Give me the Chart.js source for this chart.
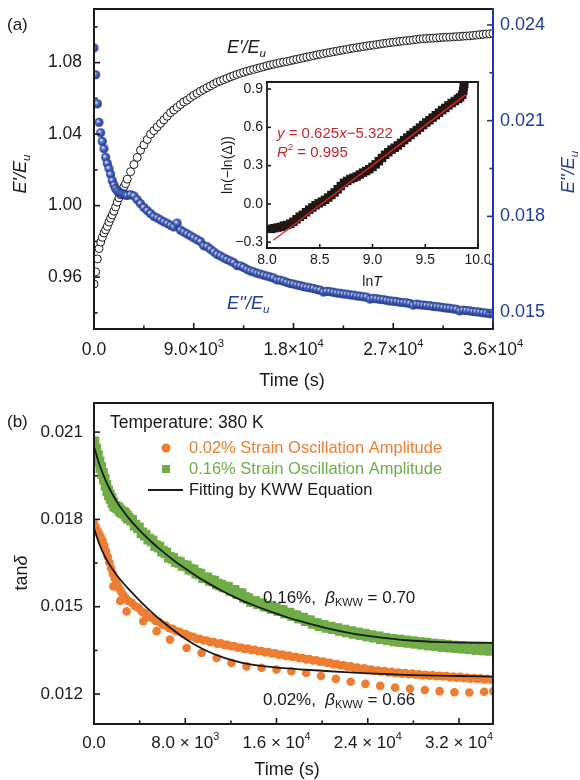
<!DOCTYPE html>
<html>
<head>
<meta charset="utf-8">
<script src="https://cdn.jsdelivr.net/npm/chart.js@4.4.1/dist/chart.umd.min.js"></script>
<style>
  html, body { margin: 0; padding: 0; background: #fff; }
  #wrap { position: relative; width: 580px; height: 780px; }
  canvas { position: absolute; }
</style>
</head>
<body>
<div id="wrap">
  <canvas id="panelA" width="580" height="395" style="left:0;top:0;width:580px;height:395px"></canvas>
  <canvas id="inset" width="275" height="220" style="left:215px;top:76px;width:275px;height:220px"></canvas>
  <canvas id="panelB" width="580" height="385" style="left:0;top:395px;width:580px;height:385px"></canvas>
</div>
<script>
// ---- panel (a): E'/Eu and E''/Eu against time (s) ----
const timeA = [0, 150, 300, 450, 600, 750, 900, 1050, 1200, 1350, 1500, 1650, 1800, 1950, 2100, 2250, 2400, 2550, 2700, 2850, 3000,
  3300, 3600, 3900, 4200, 4500, 4800, 5100, 5400, 5700, 6000,
  6300, 6600, 6900, 7200, 7500, 7800, 8100, 8400, 8700, 9000,
  9300, 9600, 9900, 10200, 10500, 10800, 11100, 11400, 11700, 12000,
  12300, 12600, 12900, 13200, 13500, 13800, 14100, 14400, 14700, 15000,
  15300, 15600, 15900, 16200, 16500, 16800, 17100, 17400, 17700, 18000,
  18300, 18600, 18900, 19200, 19500, 19800, 20100, 20400, 20700, 21000,
  21300, 21600, 21900, 22200, 22500, 22800, 23100, 23400, 23700, 24000,
  24300, 24600, 24900, 25200, 25500, 25800, 26100, 26400, 26700, 27000,
  27300, 27600, 27900, 28200, 28500, 28800, 29100, 29400, 29700, 30000,
  30300, 30600, 30900, 31200, 31500, 31800, 32100, 32400, 32700, 33000,
  33300, 33600, 33900, 34200, 34500, 34800, 35100, 35400, 35700, 36000];
const storageRatio = [0.9561, 0.9630, 0.9702, 0.9760, 0.9796, 0.9823, 0.9847, 0.9865, 0.9884, 0.9908, 0.9929, 0.9948, 0.9969, 0.9993, 1.0020, 1.0044, 1.0061, 1.0086, 1.0106, 1.0123, 1.0148,
  1.019, 1.023, 1.027, 1.031, 1.034, 1.037, 1.040, 1.042, 1.044, 1.046,
  1.048, 1.050, 1.052, 1.0535, 1.055, 1.0565, 1.058, 1.059, 1.0605, 1.0617,
  1.0628, 1.064, 1.065, 1.066, 1.067, 1.068, 1.069, 1.0697, 1.0705, 1.0712,
  1.072, 1.0727, 1.0734, 1.074, 1.0746, 1.0752, 1.0757, 1.0762, 1.0767, 1.0772,
  1.0777, 1.0782, 1.0787, 1.0791, 1.0795, 1.0799, 1.0803, 1.0806, 1.081, 1.0815,
  1.0819, 1.0823, 1.0827, 1.0831, 1.0835, 1.0839, 1.0843, 1.0847, 1.085, 1.0854,
  1.0857, 1.0861, 1.0864, 1.0868, 1.0871, 1.0874, 1.0878, 1.0881, 1.0884, 1.0887,
  1.089, 1.0893, 1.0896, 1.0898, 1.0901, 1.0904, 1.0907, 1.0909, 1.0912, 1.0914,
  1.0916, 1.0919, 1.0921, 1.0923, 1.0925, 1.0927, 1.093, 1.0932, 1.0934, 1.0935,
  1.0936, 1.0937, 1.0938, 1.094, 1.0941, 1.0942, 1.0943, 1.0944, 1.0945, 1.0946,
  1.0948, 1.0949, 1.095, 1.0952, 1.0954, 1.0956, 1.0958, 1.096, 1.0961, 1.0963];
const lossRatio = [0.02328, 0.02244, 0.02153, 0.02095, 0.02062, 0.02035, 0.02012, 0.01985, 0.01966, 0.01950, 0.01932, 0.01912, 0.01898, 0.01887, 0.01880, 0.01876, 0.01873, 0.01871, 0.01869, 0.01867, 0.01866,
  0.01868, 0.01864, 0.01852, 0.01840, 0.01828, 0.01818, 0.01809, 0.01800, 0.01795, 0.01789,
  0.01783, 0.01778, 0.01772, 0.01767, 0.01779, 0.01757, 0.01751, 0.01745, 0.01739, 0.01733,
  0.01727, 0.01721, 0.01708, 0.01705, 0.01697, 0.01689, 0.01681, 0.01676, 0.01670, 0.01665,
  0.0166, 0.01655, 0.01646, 0.01645, 0.0164, 0.01634, 0.01629, 0.01626, 0.01622, 0.01619,
  0.01616, 0.01613, 0.0161, 0.01607, 0.01601, 0.016, 0.01597, 0.01593, 0.0159, 0.01588,
  0.01585, 0.01583, 0.0158, 0.01578, 0.01576, 0.01574, 0.01571, 0.01569, 0.01563, 0.01565,
  0.01564, 0.01562, 0.0156, 0.01559, 0.01557, 0.01556, 0.01554, 0.01553, 0.01551, 0.0155,
  0.01548, 0.01547, 0.01541, 0.01543, 0.01542, 0.0154, 0.01539, 0.01537, 0.01535, 0.01534,
  0.01533, 0.01531, 0.0153, 0.01529, 0.01527, 0.01522, 0.01525, 0.01523, 0.01522, 0.01521,
  0.0152, 0.01518, 0.01517, 0.01516, 0.01514, 0.01513, 0.01512, 0.0151, 0.01509, 0.01504,
  0.01506, 0.01505, 0.01504, 0.01502, 0.01501, 0.015, 0.01498, 0.01497, 0.01495, 0.01497];
const ticksTimeA = [0, 9000, 18000, 27000, 36000];
const minorTimeA = [4500, 13500, 22500, 31500];
const ticksStorage = [0.96, 1.00, 1.04, 1.08];
const minorStorage = [0.94, 0.98, 1.02, 1.06, 1.10];
const ticksLoss = [0.015, 0.018, 0.021, 0.024];
const minorLoss = [0.0165, 0.0195, 0.0225];

// ---- inset: ln(-ln(delta)) against lnT ----
const lnT = [8.04, 8.07, 8.10, 8.13, 8.16, 8.19, 8.22, 8.25, 8.28, 8.31, 8.34, 8.37, 8.40, 8.43, 8.46, 8.49,
  8.52, 8.55, 8.58, 8.61, 8.64, 8.67, 8.70, 8.73, 8.76, 8.79, 8.82, 8.85, 8.88, 8.91, 8.94, 8.97,
  9.00, 9.03, 9.06, 9.09, 9.12, 9.15, 9.18, 9.21, 9.24, 9.27, 9.30, 9.33, 9.36, 9.39, 9.42, 9.45,
  9.48, 9.51, 9.54, 9.57, 9.60, 9.63, 9.66, 9.69, 9.72, 9.75, 9.78, 9.81, 9.83, 9.85, 9.86, 9.865, 9.87];
const lnLnDelta = [-0.195, -0.19, -0.185, -0.18, -0.17, -0.165, -0.155, -0.14, -0.12, -0.10, -0.085, -0.065, -0.045, -0.028, -0.01, 0.005,
  0.018, 0.032, 0.05, 0.07, 0.09, 0.115, 0.14, 0.165, 0.18, 0.195, 0.205, 0.215, 0.23, 0.245, 0.258, 0.272,
  0.29, 0.31, 0.335, 0.36, 0.385, 0.405, 0.425, 0.44, 0.458, 0.478, 0.5, 0.52, 0.54, 0.56, 0.578, 0.598,
  0.618, 0.638, 0.656, 0.676, 0.695, 0.715, 0.735, 0.752, 0.772, 0.79, 0.806, 0.822, 0.835, 0.855, 0.885, 0.915, 0.94];
const fitLnT = [8.06, 9.885];
const fitLnDelta = [-0.284, 0.856];
const ticksLnT = [8.0, 8.5, 9.0, 9.5, 10.0];
const ticksLnDelta = [-0.3, 0.0, 0.3, 0.6, 0.9];

// ---- panel (b): tan(delta) against time (s) ----
const timeB = [0, 150, 300, 450, 600, 750, 900, 1050, 1200, 1350, 1500, 1650, 1800, 1950, 2100, 2250, 2400, 2550, 2700, 2850,
  3000, 3300, 3600, 3900, 4200, 4500, 4800, 5100, 5400, 5700,
  6000, 6300, 6600, 6900, 7200, 7500, 7800, 8100, 8400, 8700,
  9000, 9300, 9600, 9900, 10200, 10500, 10800, 11100, 11400, 11700,
  12000, 12300, 12600, 12900, 13200, 13500, 13800, 14100, 14400, 14700,
  15000, 15300, 15600, 15900, 16200, 16500, 16800, 17100, 17400, 17700,
  18000, 18300, 18600, 18900, 19200, 19500, 19800, 20100, 20400, 20700,
  21000, 21300, 21600, 21900, 22200, 22500, 22800, 23100, 23400, 23700,
  24000, 24300, 24600, 24900, 25200, 25500, 25800, 26100, 26400, 26700,
  27000, 27300, 27600, 27900, 28200, 28500, 28800, 29100, 29400, 29700,
  30000, 30300, 30600, 30900, 31200, 31500, 31800, 32100, 32400, 32700,
  33000, 33300, 33600, 33900, 34200, 34500, 34800, 35100];
const tanLarge = [0.02067, 0.02042, 0.0202, 0.01998, 0.01978, 0.01958, 0.01938, 0.01917, 0.01898, 0.01884, 0.01872, 0.01858, 0.01846, 0.01843, 0.0184, 0.01832, 0.01826, 0.01824, 0.0182, 0.01812,
  0.01804, 0.01797, 0.0178, 0.01771, 0.01754, 0.01746, 0.01732, 0.01726, 0.0171, 0.01705,
  0.01691, 0.01685, 0.0167, 0.01666, 0.01655, 0.01652, 0.01642, 0.0164, 0.01629, 0.01626,
  0.01615, 0.01612, 0.016, 0.01599, 0.0159, 0.01588, 0.01578, 0.01574, 0.01568, 0.01567,
  0.01556, 0.01556, 0.01545, 0.01545, 0.01532, 0.01528, 0.01518, 0.01518, 0.0151, 0.0151,
  0.01502, 0.01502, 0.01494, 0.01495, 0.01487, 0.01487, 0.01478, 0.01478, 0.0147, 0.01469,
  0.01461, 0.01461, 0.01452, 0.01452, 0.01443, 0.01442, 0.01435, 0.01436, 0.01429, 0.0143,
  0.01424, 0.01425, 0.01418, 0.0142, 0.01413, 0.01415, 0.01408, 0.0141, 0.01404, 0.01406,
  0.01399, 0.01401, 0.01395, 0.01397, 0.0139, 0.01392, 0.01386, 0.01388, 0.01382, 0.01386,
  0.0138, 0.01383, 0.01377, 0.0138, 0.01374, 0.01377, 0.01371, 0.01375, 0.01368, 0.01372,
  0.01366, 0.0137, 0.01363, 0.01368, 0.01361, 0.01365, 0.01359, 0.01363, 0.01357, 0.01361,
  0.01355, 0.01359, 0.01353, 0.01357, 0.01351, 0.01356, 0.0135, 0.01354];
const tanSmall = [0.01787, 0.01775, 0.01762, 0.01751, 0.0174, 0.01727, 0.01712, 0.01692, 0.01672, 0.01652, 0.01632, 0.01614, 0.01598, 0.01584, 0.01572, 0.0156, 0.0155, 0.01541, 0.01533, 0.01526,
  0.0152, 0.01514, 0.01502, 0.01496, 0.01483, 0.01477, 0.01465, 0.01461, 0.01451, 0.01448,
  0.01438, 0.01435, 0.01426, 0.01424, 0.01416, 0.01414, 0.01407, 0.01405, 0.01398, 0.01397,
  0.0139, 0.0139, 0.01384, 0.01384, 0.01378, 0.01379, 0.01373, 0.01374, 0.01369, 0.01369,
  0.01364, 0.01365, 0.01359, 0.0136, 0.01355, 0.01356, 0.01351, 0.01352, 0.01347, 0.01348,
  0.01343, 0.01344, 0.01339, 0.0134, 0.01335, 0.01336, 0.01331, 0.01332, 0.01327, 0.01328,
  0.01323, 0.01324, 0.01319, 0.0132, 0.01315, 0.01316, 0.01311, 0.01312, 0.01307, 0.01307,
  0.01302, 0.01303, 0.01298, 0.01299, 0.01294, 0.01295, 0.0129, 0.01291, 0.01286, 0.01288,
  0.01283, 0.01284, 0.0128, 0.01281, 0.01277, 0.01279, 0.01274, 0.01276, 0.01272, 0.01274,
  0.0127, 0.01272, 0.01268, 0.0127, 0.01266, 0.01268, 0.01264, 0.01266, 0.01263, 0.01265,
  0.01261, 0.01263, 0.0126, 0.01262, 0.01258, 0.0126, 0.01256, 0.01259, 0.01255, 0.01257,
  0.01253, 0.01255, 0.01252, 0.01254, 0.0125, 0.01252, 0.01249, 0.01251];
// scattered low points of the 0.02% run
const lowTime = [1700, 2300, 2860, 4320, 5490, 6660, 8120, 9430, 10750, 12050, 13370, 14690, 16000, 17300, 18600,
  19900, 21200, 22500, 23800, 25100, 26400, 27700, 29000, 30300, 31600, 32900, 34200, 35000];
const lowSmall = [0.0157, 0.0152, 0.01484, 0.0145, 0.01416, 0.01387, 0.01358, 0.01341, 0.01324, 0.01307, 0.01295, 0.0129, 0.01284, 0.01278, 0.01272,
  0.01262, 0.01252, 0.01242, 0.01235, 0.01228, 0.01222, 0.01218, 0.01214, 0.0121, 0.01206, 0.01205, 0.01208, 0.0121];
const fitTime = [0, 500, 1000, 1500, 2000, 2500, 3000, 4000, 5000, 6000, 7000, 8000, 9000, 10000, 11000,
  12000, 13000, 14000, 15000, 16000, 17000, 18000, 20000, 22000, 24000, 26000, 28000, 30000, 32000, 35000];
const fitLarge = [0.0205, 0.01986, 0.01936, 0.01895, 0.01861, 0.01832, 0.01806, 0.01762, 0.01724, 0.0169, 0.01659, 0.01631, 0.01605, 0.01581, 0.01559,
  0.01539, 0.01521, 0.01505, 0.0149, 0.01476, 0.01463, 0.01451, 0.0143, 0.01413, 0.014, 0.0139, 0.01383, 0.01379, 0.01377, 0.01376];
const fitSmall = [0.0177, 0.01712, 0.01669, 0.01636, 0.01608, 0.01584, 0.01562, 0.01521, 0.01483, 0.01449, 0.01418, 0.0139, 0.01366, 0.01346, 0.0133,
  0.01317, 0.01307, 0.013, 0.01295, 0.01291, 0.01288, 0.01285, 0.0128, 0.01275, 0.01271, 0.01268, 0.01265, 0.01263, 0.01262, 0.0126];
const ticksTimeB = [0, 8000, 16000, 24000, 32000];
const minorTimeB = [4000, 12000, 20000, 28000];
const ticksTan = [0.012, 0.015, 0.018, 0.021];
const minorTan = [0.0135, 0.0165, 0.0195];

const FONT = '"Liberation Sans", Arial, Helvetica, sans-serif';
const INK = '#1a1a1a';
const BLUE = '#1f3c9c';
const ORANGE = '#ed7d31';
const GREEN = '#70ad47';
const RED_TXT = '#c3262c';

// parts: [[text, flags]]; flags: i = italic, b = subscript, p = superscript
function richText(ctx, parts, x, y, size, color, align, angle) {
  const fontOf = f => (f.includes('i') ? 'italic ' : '') + ((f.includes('b') || f.includes('p')) ? size * 0.64 : size) + 'px ' + FONT;
  let total = 0;
  const widths = parts.map(([t, f]) => { ctx.font = fontOf(f); const w = ctx.measureText(t).width; total += w; return w; });
  ctx.save();
  ctx.translate(x, y);
  if (angle) ctx.rotate(angle);
  ctx.fillStyle = color;
  ctx.textBaseline = 'middle';
  ctx.textAlign = 'left';
  let cx = align === 'center' ? -total / 2 : align === 'right' ? -total : 0;
  parts.forEach(([t, f], i) => {
    ctx.font = fontOf(f);
    const dy = f.includes('b') ? size * 0.3 : f.includes('p') ? -size * 0.36 : 0;
    ctx.fillText(t, cx, dy);
    cx += widths[i];
  });
  ctx.restore();
}

function frame(chart, lw, c) {
  const ctx = chart.ctx, a = chart.chartArea;
  ctx.save();
  ctx.lineWidth = lw;
  ctx.lineCap = 'square';
  const seg = (col, x1, y1, x2, y2) => {
    if (!col) return;
    ctx.strokeStyle = col;
    ctx.beginPath(); ctx.moveTo(x1, y1); ctx.lineTo(x2, y2); ctx.stroke();
  };
  seg(c.top, a.left, a.top, a.right, a.top);
  seg(c.bottom, a.left, a.bottom, a.right, a.bottom);
  seg(c.left, a.left, a.top, a.left, a.bottom);
  seg(c.right, a.right, a.top, a.right, a.bottom);
  ctx.restore();
}

function inwardTicks(chart, id, side, major, minor, color, len) {
  const ctx = chart.ctx, a = chart.chartArea, s = chart.scales[id];
  ctx.save();
  ctx.strokeStyle = color;
  ctx.lineWidth = 1.6;
  const mark = (v, l) => {
    const p = s.getPixelForValue(v);
    ctx.beginPath();
    if (side === 'left') { ctx.moveTo(a.left, p); ctx.lineTo(a.left + l, p); }
    if (side === 'right') { ctx.moveTo(a.right, p); ctx.lineTo(a.right - l, p); }
    if (side === 'bottom') { ctx.moveTo(p, a.bottom); ctx.lineTo(p, a.bottom - l); }
    ctx.stroke();
  };
  major.forEach(v => mark(v, len));
  minor.forEach(v => mark(v, len * 0.6));
  ctx.restore();
}

function sciLabel(v, gap) {
  if (v === 0) return [['0.0', '']];
  const e = Math.floor(Math.log10(v) + 1e-9);
  const m = (v / Math.pow(10, e)).toFixed(1);
  return [[m + gap + '×' + gap + '10', ''], [String(e), 'p']];
}

function xLabels(chart, id, values, fmt, y, size) {
  const s = chart.scales[id];
  values.forEach(v => richText(chart.ctx, fmt(v), s.getPixelForValue(v), y, size, INK, 'center'));
}

function yLabels(chart, id, values, fmt, x, align, size, color) {
  const s = chart.scales[id];
  values.forEach(v => richText(chart.ctx, [[fmt(v), '']], x, s.getPixelForValue(v), size, color, align));
}

function sphere(r) {
  const c = document.createElement('canvas');
  const d = Math.ceil(2 * r + 2);
  c.width = d; c.height = d;
  const g = c.getContext('2d');
  const m = d / 2;
  const grad = g.createRadialGradient(m - r * 0.3, m - r * 0.3, r * 0.1, m, m, r);
  grad.addColorStop(0, '#dfe6f8');
  grad.addColorStop(0.38, '#5570bf');
  grad.addColorStop(1, '#16308c');
  g.fillStyle = grad;
  g.beginPath(); g.arc(m, m, r, 0, Math.PI * 2); g.fill();
  return c;
}

const pts = (xs, ys) => xs.map((x, i) => ({ x: x, y: ys[i] }));
const hidden = { display: false };
const minus = v => (Math.abs(v) < 1e-9 ? '0.0' : v < 0 ? '−' + Math.abs(v).toFixed(1) : v.toFixed(1));

// plain linear axis: no grid, no built-in labels, exact size
function axis(extra, size, isX) {
  return Object.assign({
    type: 'linear',
    grid: hidden, border: hidden, ticks: { display: false },
    afterFit: s => { if (isX) s.height = size; else s.width = size; }
  }, extra);
}

// ---------------- panel (a) ----------------
const decorA = {
  id: 'decorA',
  afterDatasetsDraw(chart) {
    const ctx = chart.ctx, a = chart.chartArea;
    frame(chart, 2, { top: INK, left: INK, bottom: INK, right: BLUE });
    inwardTicks(chart, 'yStore', 'left', ticksStorage, minorStorage, INK, 6);
    inwardTicks(chart, 'yLoss', 'right', ticksLoss, minorLoss, BLUE, 6);
    inwardTicks(chart, 'x', 'bottom', ticksTimeA, minorTimeA, INK, 6);
    xLabels(chart, 'x', ticksTimeA, v => sciLabel(v, ''), 350, 17.5);
    yLabels(chart, 'yStore', ticksStorage, v => v.toFixed(2), a.left - 12, 'right', 17.5, INK);
    yLabels(chart, 'yLoss', ticksLoss, v => v.toFixed(3), a.right + 7, 'left', 18, BLUE);
    richText(ctx, [['Time (s)', '']], 292, 381, 18, INK, 'center');
    richText(ctx, [['(a)', '']], 7, 25, 17, INK, 'left');
    richText(ctx, [["E'/E", 'i'], ['u', 'ib']], 21, 174, 18, INK, 'center', -Math.PI / 2);
    richText(ctx, [["E''/E", 'i'], ['u', 'ib']], 569, 172, 18, BLUE, 'center', -Math.PI / 2);
    richText(ctx, [["E'/E", 'i'], ['u', 'ib']], 227, 48, 18, INK, 'left');
    richText(ctx, [["E''/E", 'i'], ['u', 'ib']], 227, 304, 18, BLUE, 'left');
  }
};

new Chart(document.getElementById('panelA'), {
  type: 'scatter',
  data: {
    datasets: [
      {
        label: "E''/Eu",
        data: pts(timeA, lossRatio),
        yAxisID: 'yLoss',
        pointStyle: sphere(4.5),
        pointRadius: 4.5,
        order: 0
      },
      {
        label: "E'/Eu",
        data: pts(timeA, storageRatio),
        yAxisID: 'yStore',
        pointRadius: 4,
        pointBackgroundColor: '#fff',
        pointBorderColor: INK,
        pointBorderWidth: 1,
        order: 1
      }
    ]
  },
  options: {
    responsive: false,
    animation: false,
    devicePixelRatio: 1,
    layout: { padding: { top: 9, left: 0, right: 0, bottom: 0 } },
    plugins: { legend: hidden, tooltip: { enabled: false } },
    scales: {
      x: axis({ min: 0, max: 36000 }, 66, true),
      yStore: axis({ axis: 'y', position: 'left', min: 0.931, max: 1.11 }, 94, false),
      yLoss: axis({ axis: 'y', position: 'right', min: 0.01447, max: 0.0245 }, 87, false)
    }
  },
  plugins: [decorA]
});

// ---------------- inset ----------------
const decorInset = {
  id: 'decorInset',
  beforeDatasetsDraw(chart) {
    const a = chart.chartArea;
    chart.ctx.save();
    chart.ctx.fillStyle = '#fff';
    chart.ctx.fillRect(a.left, a.top, a.right - a.left, a.bottom - a.top);
    chart.ctx.restore();
  },
  afterDatasetsDraw(chart) {
    const ctx = chart.ctx, a = chart.chartArea;
    frame(chart, 1.8, { top: INK, left: INK, bottom: INK, right: INK });
    inwardTicks(chart, 'y', 'left', ticksLnDelta, [], INK, 4);
    inwardTicks(chart, 'x', 'bottom', ticksLnT, [], INK, 4);
    xLabels(chart, 'x', ticksLnT, v => [[v.toFixed(1), '']], a.bottom + 12, 14);
    yLabels(chart, 'y', ticksLnDelta, minus, a.left - 4, 'right', 14, INK);
    richText(ctx, [['ln', ''], ['T', 'i']], 157, 206, 14, INK, 'center');
    richText(ctx, [['ln(−ln(Δ))', '']], 13, 89, 14, INK, 'center', -Math.PI / 2);
    richText(ctx, [['y', 'i'], [' = 0.625', ''], ['x', 'i'], ['−5.322', '']], 62, 58, 15, RED_TXT, 'left');
    richText(ctx, [['R', 'i'], ['2', 'p'], [' = 0.995', '']], 62, 77, 15, RED_TXT, 'left');
  }
};

new Chart(document.getElementById('inset'), {
  type: 'scatter',
  data: {
    datasets: [
      {
        label: 'fit',
        data: pts(fitLnT, fitLnDelta),
        showLine: true,
        borderColor: '#e8231f',
        borderWidth: 1.3,
        pointRadius: 0,
        order: 0
      },
      {
        label: 'ln(-ln(delta))',
        data: pts(lnT, lnLnDelta),
        pointStyle: 'rect',
        pointRadius: 6,
        pointBackgroundColor: '#221714',
        pointBorderColor: '#221714',
        pointBorderWidth: 0,
        order: 1
      }
    ]
  },
  options: {
    responsive: false,
    animation: false,
    devicePixelRatio: 1,
    layout: { padding: { top: 4, left: 0, right: 12, bottom: 0 } },
    plugins: { legend: hidden, tooltip: { enabled: false } },
    scales: {
      x: axis({ min: 8, max: 10 }, 48, true),
      y: axis({ min: -0.345, max: 0.955 }, 52, false)
    }
  },
  plugins: [decorInset]
});

// ---------------- panel (b) ----------------
const decorB = {
  id: 'decorB',
  afterDatasetsDraw(chart) {
    const ctx = chart.ctx, a = chart.chartArea;
    frame(chart, 2, { top: INK, left: INK, bottom: INK, right: INK });
    inwardTicks(chart, 'y', 'left', ticksTan, minorTan, INK, 6);
    inwardTicks(chart, 'x', 'bottom', ticksTimeB, minorTimeB, INK, 6);
    xLabels(chart, 'x', ticksTimeB, v => sciLabel(v, ' '), 348, 17);
    yLabels(chart, 'y', ticksTan, v => v.toFixed(3), a.left - 11, 'right', 17, INK);
    richText(ctx, [['Time (s)', '']], 287, 375, 18, INK, 'center');
    richText(ctx, [['(b)', '']], 7, 27, 17, INK, 'left');
    richText(ctx, [['tan', ''], ['δ', 'i']], 22, 178, 18, INK, 'center', -Math.PI / 2);
    richText(ctx, [['Temperature: 380 K', '']], 110, 28, 17.5, INK, 'left');
    // legend
    ctx.save();
    ctx.fillStyle = ORANGE;
    ctx.beginPath(); ctx.arc(166, 53, 4.5, 0, Math.PI * 2); ctx.fill();
    ctx.fillStyle = GREEN;
    ctx.fillRect(162, 70, 8, 8);
    ctx.strokeStyle = INK; ctx.lineWidth = 2;
    ctx.beginPath(); ctx.moveTo(148, 95); ctx.lineTo(183, 95); ctx.stroke();
    ctx.restore();
    richText(ctx, [['0.02% Strain Oscillation Amplitude', '']], 189, 53, 16.5, ORANGE, 'left');
    richText(ctx, [['0.16% Strain Oscillation Amplitude', '']], 189, 74, 16.5, GREEN, 'left');
    richText(ctx, [['Fitting by KWW Equation', '']], 189, 95, 16.5, INK, 'left');
    richText(ctx, [['0.16%,  ', ''], ['β', 'i'], ['KWW', 'b'], [' = 0.70', '']], 263, 203, 17, INK, 'left');
    richText(ctx, [['0.02%,  ', ''], ['β', 'i'], ['KWW', 'b'], [' = 0.66', '']], 263, 305, 17, INK, 'left');
  }
};

new Chart(document.getElementById('panelB'), {
  type: 'scatter',
  data: {
    datasets: [
      {
        label: 'KWW fit 0.16%',
        data: pts(fitTime, fitLarge),
        showLine: true, borderColor: INK, borderWidth: 1.8, pointRadius: 0,
        cubicInterpolationMode: 'monotone',
        order: 0
      },
      {
        label: 'KWW fit 0.02%',
        data: pts(fitTime, fitSmall),
        showLine: true, borderColor: INK, borderWidth: 1.8, pointRadius: 0,
        cubicInterpolationMode: 'monotone',
        order: 0
      },
      {
        label: '0.02% Strain Oscillation Amplitude',
        data: pts(timeB, tanSmall).concat(pts(lowTime, lowSmall)),
        pointRadius: 4.3,
        pointBackgroundColor: ORANGE,
        pointBorderWidth: 0,
        order: 1
      },
      {
        label: '0.16% Strain Oscillation Amplitude',
        data: pts(timeB, tanLarge),
        pointStyle: 'rect',
        pointRadius: 7.5,
        pointBackgroundColor: GREEN,
        pointBorderWidth: 0,
        order: 2
      }
    ]
  },
  options: {
    responsive: false,
    animation: false,
    devicePixelRatio: 1,
    layout: { padding: { top: 8, left: 0, right: 87, bottom: 0 } },
    plugins: { legend: hidden, tooltip: { enabled: false } },
    scales: {
      x: axis({ min: 0, max: 34980 }, 56, true),
      y: axis({ min: 0.01097, max: 0.022 }, 94, false)
    }
  },
  plugins: [decorB]
});
</script>
</body>
</html>
